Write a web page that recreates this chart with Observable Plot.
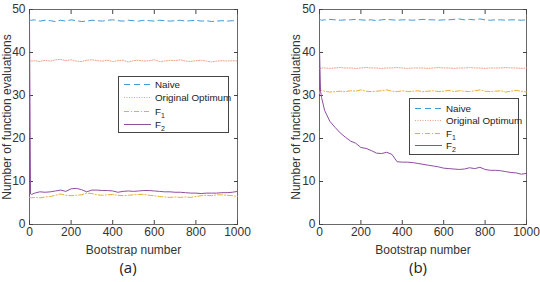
<!DOCTYPE html>
<html>
<head>
<meta charset="utf-8">
<script src="https://cdn.jsdelivr.net/npm/d3@7"></script>
<script src="https://cdn.jsdelivr.net/npm/@observablehq/plot@0.6"></script>
<style>
  html, body { margin: 0; padding: 0; background: #fff; }
  #root { position: relative; width: 540px; height: 282px; overflow: hidden; font-family: "Liberation Sans", Arial, sans-serif; color: #333; }
  .panel { position: absolute; top: 0; }
  .caption { position: absolute; top: 257px; font-family: "Open Sans", "DejaVu Sans", sans-serif; font-size: 15px; color: #222; transform: translateX(-50%); }
  .legend { position: absolute; background: #fff; border: 1px solid #444; box-sizing: border-box; font-size: 9.8px; color: #222; }
  .legend .row { position: absolute; left: 0; display: flex; align-items: center; height: 12px; white-space: nowrap; }
  .legend svg { margin-right: 2px; }
  .legend sub { font-size: 7px; vertical-align: -3px; line-height: 0; }
</style>
</head>
<body>
<div id="root"></div>
<script>
// ---------- data ----------
const bootstrapX = [0, 5, 10, 25, 50, 75, 100, 125, 150, 175, 200, 225, 250, 275, 300, 325, 350, 375, 400, 425, 450, 475, 500, 525, 550, 575, 600, 625, 650, 675, 700, 725, 750, 775, 800, 825, 850, 875, 900, 925, 950, 975, 1000];

// panel (a)
const naiveA = [47.4, 47.5, 47.5, 47.6, 47.3, 47.5, 47.4, 47.2, 47.5, 47.3, 47.6, 47.4, 47.2, 47.3, 47.5, 47.4, 47.3, 47.5, 47.6, 47.4, 47.3, 47.5, 47.4, 47.3, 47.5, 47.4, 47.3, 47.5, 47.4, 47.3, 47.4, 47.5, 47.3, 47.4, 47.5, 47.3, 47.4, 47.2, 47.3, 47.4, 47.3, 47.4, 47.3];
const origA  = [38.4, 38.2, 38.0, 38.1, 37.9, 38.2, 38.0, 38.3, 38.4, 38.1, 38.3, 38.0, 37.9, 38.2, 38.3, 38.1, 38.0, 38.2, 37.9, 38.1, 38.2, 37.8, 38.1, 38.2, 38.0, 38.1, 38.3, 37.9, 38.0, 38.2, 38.1, 38.3, 38.0, 37.9, 38.1, 38.2, 38.0, 37.8, 38.0, 38.1, 38.0, 38.1, 38.0];
const f1A    = [6.3, 6.3, 6.2, 6.3, 6.2, 6.4, 6.5, 6.8, 7.1, 6.8, 6.7, 6.8, 6.9, 7.3, 7.2, 6.9, 6.8, 6.9, 7.0, 6.8, 6.7, 6.8, 6.9, 7.0, 7.0, 6.8, 6.7, 6.5, 6.4, 6.3, 6.4, 6.3, 6.4, 6.3, 6.5, 6.7, 6.8, 6.7, 6.9, 6.9, 6.8, 6.7, 6.5];
const f2A    = [47.0, 7.1, 7.0, 7.3, 7.6, 7.5, 7.6, 7.8, 8.0, 7.7, 8.3, 8.4, 8.1, 7.6, 8.0, 8.0, 7.9, 7.9, 7.8, 7.5, 7.7, 7.8, 7.7, 7.8, 7.9, 7.9, 7.8, 7.7, 7.6, 7.6, 7.5, 7.5, 7.4, 7.3, 7.3, 7.2, 7.3, 7.3, 7.3, 7.4, 7.4, 7.5, 7.7];

// panel (b)
const naiveB = [47.6, 47.6, 47.5, 47.6, 47.7, 47.6, 47.5, 47.6, 47.6, 47.7, 47.6, 47.5, 47.6, 47.4, 47.6, 47.7, 47.6, 47.5, 47.6, 47.6, 47.5, 47.6, 47.7, 47.6, 47.6, 47.5, 47.6, 47.6, 47.7, 47.8, 47.6, 47.7, 47.6, 47.8, 47.6, 47.5, 47.6, 47.6, 47.5, 47.6, 47.6, 47.5, 47.6];
const origB  = [36.3, 36.3, 36.4, 36.4, 36.3, 36.4, 36.5, 36.4, 36.4, 36.3, 36.4, 36.5, 36.4, 36.4, 36.3, 36.4, 36.4, 36.5, 36.4, 36.3, 36.4, 36.4, 36.4, 36.3, 36.4, 36.5, 36.4, 36.4, 36.3, 36.4, 36.4, 36.5, 36.4, 36.4, 36.3, 36.4, 36.4, 36.4, 36.5, 36.4, 36.4, 36.3, 36.4];
const f1B    = [30.5, 31.3, 31.2, 31.0, 30.8, 30.9, 31.0, 30.9, 31.1, 31.0, 31.3, 31.0, 30.9, 31.0, 31.1, 31.3, 31.0, 30.9, 31.1, 30.9, 31.0, 31.1, 30.9, 31.0, 31.1, 30.9, 31.0, 31.2, 30.9, 31.1, 31.0, 30.9, 31.1, 31.3, 31.0, 30.9, 31.0, 31.1, 30.8, 31.0, 31.2, 31.0, 30.8];
const f2B    = [40.9, 31.0, 29.5, 26.5, 24.0, 22.6, 21.3, 20.3, 19.4, 18.9, 17.9, 17.7, 17.2, 16.6, 16.5, 16.8, 16.3, 14.6, 14.5, 14.5, 14.4, 14.2, 14.0, 13.8, 13.6, 13.4, 13.1, 13.0, 12.9, 12.8, 12.9, 13.2, 13.0, 13.3, 12.8, 12.6, 12.6, 12.5, 12.3, 12.1, 12.0, 11.7, 11.9];

const seriesNames = ["Naive", "Original Optimum", "F1", "F2"];
const yTicks = [0, 10, 20, 30, 40, 50];
const xTicks = [0, 200, 400, 600, 800, 1000];
const panelLabels = ["(a)", "(b)"];

// ---------- styles ----------
const styles = {
  "Naive": {stroke: "#3f9ad8", strokeDasharray: "6,4"},
  "Original Optimum": {stroke: "#f0a080", strokeDasharray: "1,1.5"},
  "F1": {stroke: "#e8b030", strokeDasharray: "5,2,1,2"},
  "F2": {stroke: "#8e4f9f", strokeDasharray: null}
};

function table(ys) {
  return seriesNames.flatMap((name, i) => bootstrapX.map((x, j) => ({name, x, y: ys[i][j]})));
}

function panel(data, m) {
  const axisColor = "#444";
  const marks = [
    Plot.frame({stroke: axisColor, strokeWidth: 0.8}),
    Plot.axisX({ticks: xTicks, tickSize: -4, tickPadding: 7, tickFormat: d => String(d), stroke: axisColor, color: "#333", fontSize: 12,
      label: "Bootstrap number", labelAnchor: "center", labelArrow: "none", labelOffset: 29}),
    Plot.axisX({ticks: xTicks, anchor: "top", tickSize: -4, tickFormat: () => "", label: null, stroke: axisColor}),
    Plot.axisY({ticks: yTicks, tickSize: -4, tickPadding: 8, stroke: axisColor, color: "#333", fontSize: 12,
      label: "Number of function evaluations", labelAnchor: "center", labelArrow: "none", labelOffset: m.labelOffset}),
    Plot.axisY({ticks: yTicks, anchor: "right", tickSize: -4, tickFormat: () => "", label: null, stroke: axisColor})
  ];
  for (const name of seriesNames) {
    marks.push(Plot.line(data.filter(d => d.name === name), {x: "x", y: "y", strokeWidth: 1, ...styles[name]}));
  }
  return Plot.plot({
    width: 270,
    height: 256,
    marginLeft: m.left,
    marginRight: m.right,
    marginTop: m.top,
    marginBottom: m.bottom,
    style: {fontFamily: "'Liberation Sans', Arial, sans-serif", fontSize: "12px", color: "#333", background: "transparent"},
    x: {domain: [0, 1000]},
    y: {domain: [0, 50]},
    marks
  });
}

function legend(left, top, width, height, rowTops) {
  const el = document.createElement("div");
  el.className = "legend";
  Object.assign(el.style, {left: left + "px", top: top + "px", width: width + "px", height: height + "px"});
  seriesNames.forEach((name, i) => {
    const row = document.createElement("div");
    row.className = "row";
    row.style.top = rowTops[i] + "px";
    const st = styles[name];
    row.innerHTML =
      `<svg width="34" height="12"><line x1="5" x2="32" y1="6.5" y2="6.5" stroke="${st.stroke}" stroke-width="1" ${st.strokeDasharray ? `stroke-dasharray="${st.strokeDasharray}"` : ""}/></svg>` +
      `<span>${name.startsWith("F") && name.length === 2 ? name[0] + "<sub>" + name[1] + "</sub>" : name}</span>`;
    el.appendChild(row);
  });
  return el;
}

const root = document.getElementById("root");

const dataA = table([naiveA, origA, f1A, f2A]);
const dataB = table([naiveB, origB, f1B, f2B]);

const pa = panel(dataA, {left: 29, right: 33, top: 9, bottom: 32, labelOffset: 27});
pa.classList.add("panel");
pa.style.left = "0px";
root.appendChild(pa);

const pb = panel(dataB, {left: 49, right: 14, top: 9, bottom: 32, labelOffset: 28});
pb.classList.add("panel");
pb.style.left = "270px";
root.appendChild(pb);

root.appendChild(legend(118, 76, 111, 57, [1, 14, 28, 41]));
root.appendChild(legend(409, 98, 110, 57, [3, 15, 28, 40]));

panelLabels.forEach((t, i) => {
  const c = document.createElement("div");
  c.className = "caption";
  c.textContent = t;
  c.style.left = (i === 0 ? 128 : 418) + "px";
  root.appendChild(c);
});
</script>
</body>
</html>
